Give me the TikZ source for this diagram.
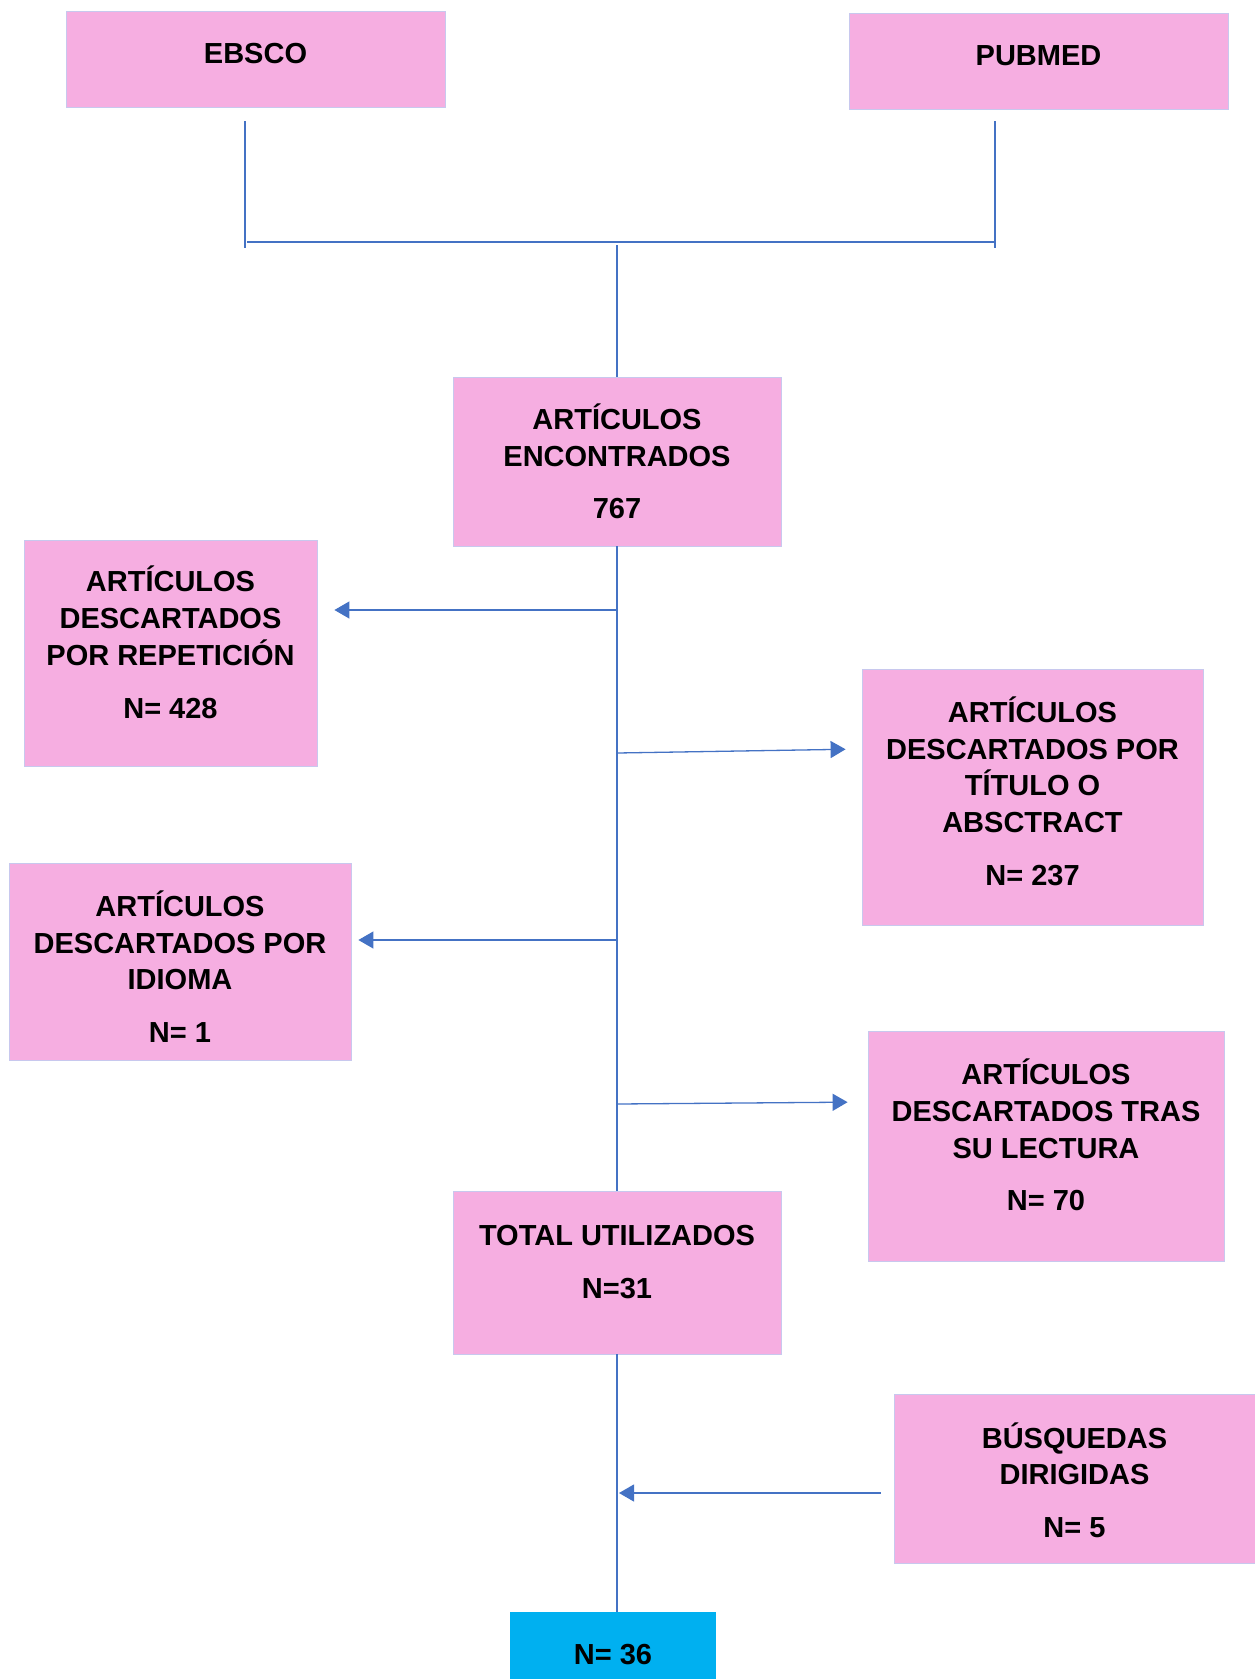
\documentclass[tikz,border=0pt]{standalone}
\usepackage{fontspec}
\setmainfont{Liberation Sans}
\usetikzlibrary{arrows.meta}

\definecolor{boxpink}{RGB}{246,174,225}
\definecolor{boxedge}{RGB}{200,200,238}
\definecolor{linkblue}{RGB}{68,114,196}
\definecolor{totalblue}{RGB}{0,176,240}

\begin{document}
\begin{tikzpicture}[x=1pt, y=-1pt,
    every node/.style={font=\bfseries\fontsize{29}{36.7}\selectfont, align=center, inner sep=0pt},
    box/.style={rectangle, draw=boxedge, line width=0.8pt, fill=boxpink},
    link/.style={draw=linkblue, line width=1.3pt},
    arr/.style={link, -{Triangle[length=15pt, width=17pt]}}]
    \useasboundingbox (0,0) rectangle (1255,1679);

    % sources
    \node[box, minimum width=379pt, minimum height=96pt] (ebsco) at (255.5,59) {};
    \node[yshift=5.4pt] (ebscoText) at (ebsco) {EBSCO};
    \node[box, minimum width=379pt, minimum height=96pt] (pubmed) at (1038.5,61) {};
    \node[yshift=5.4pt] (pubmedText) at (pubmed) {PUBMED};

    % main column
    \node[box, minimum width=328pt, minimum height=169pt] (found) at (617,461.5) {};
    \node (foundText) at (found) {ART\'ICULOS\\ENCONTRADOS\\[16pt]767};
    \node[box, minimum width=328pt, minimum height=163pt] (used) at (617,1272.5) {};
    \node[yshift=10.7pt] (usedText) at (used) {TOTAL UTILIZADOS\\[16pt]N=31};
    \node[rectangle, fill=totalblue, minimum width=206pt, minimum height=86pt] (final) at (613,1655) {N= 36};

    % discarded
    \node[box, minimum width=293pt, minimum height=226pt] (repeat) at (170.5,653) {};
    \node[yshift=10.7pt] (repeatText) at (repeat) {ART\'ICULOS\\DESCARTADOS\\POR REPETICI\'ON\\[16pt]N= 428};
    \node[box, minimum width=341pt, minimum height=256pt] (title) at (1032.5,797) {};
    \node[yshift=6pt] (titleText) at (title) {ART\'ICULOS\\DESCARTADOS POR\\T\'ITULO O\\ABSCTRACT\\[16pt]N= 237};
    \node[box, minimum width=342pt, minimum height=197pt] (lang) at (180,961.5) {};
    \node[yshift=-5pt] (langText) at (lang) {ART\'ICULOS\\DESCARTADOS POR\\IDIOMA\\[16pt]N= 1};
    \node[box, minimum width=356pt, minimum height=230pt] (read) at (1046,1146) {};
    \node[yshift=11pt] (readText) at (read) {ART\'ICULOS\\DESCARTADOS TRAS\\SU LECTURA\\[16pt]N= 70};
    \node[box, minimum width=361pt, minimum height=169pt] (search) at (1074.5,1478.5) {};
    \node[yshift=-1.5pt] (searchText) at (search) {B\'USQUEDAS\\DIRIGIDAS\\[16pt]N= 5};

    % joining the two sources
    \coordinate (ebscoTop) at (245,121);
    \coordinate (ebscoEnd) at (245,248);
    \coordinate (pubmedTop) at (995,121);
    \coordinate (pubmedEnd) at (995,248);
    \coordinate (joinL) at (247,242);
    \coordinate (joinR) at (995,242);
    \coordinate (joinM) at (617,245);
    \draw[link] (ebscoTop) -- (ebscoEnd);
    \draw[link] (pubmedTop) -- (pubmedEnd);
    \draw[link] (joinL) -- (joinR);
    \draw[link] (joinM) -- (found.north);

    % spine
    \draw[link] (found.south) -- (used.north);
    \draw[link] (used.south) -- (used.south |- final.north);
    \coordinate (s1) at (617,610);
    \coordinate (s2) at (617,753);
    \coordinate (s3) at (617,940);
    \coordinate (s4) at (617,1104);
    \coordinate (s5) at (619,1493);
    \draw[arr, shorten >=17pt] (s1) -- (s1 -| repeat.east);
    \draw[arr, shorten >=16pt] (s2) -- ([yshift=4pt]s2 -| title.west);
    \draw[arr, shorten >=7pt] (s3) -- (s3 -| lang.east);
    \draw[arr, shorten >=20pt] (s4) -- ([yshift=2pt]s4 -| read.west);
    \draw[arr, shorten <=13pt] (s5 -| search.west) -- (s5);
\end{tikzpicture}
\end{document}
